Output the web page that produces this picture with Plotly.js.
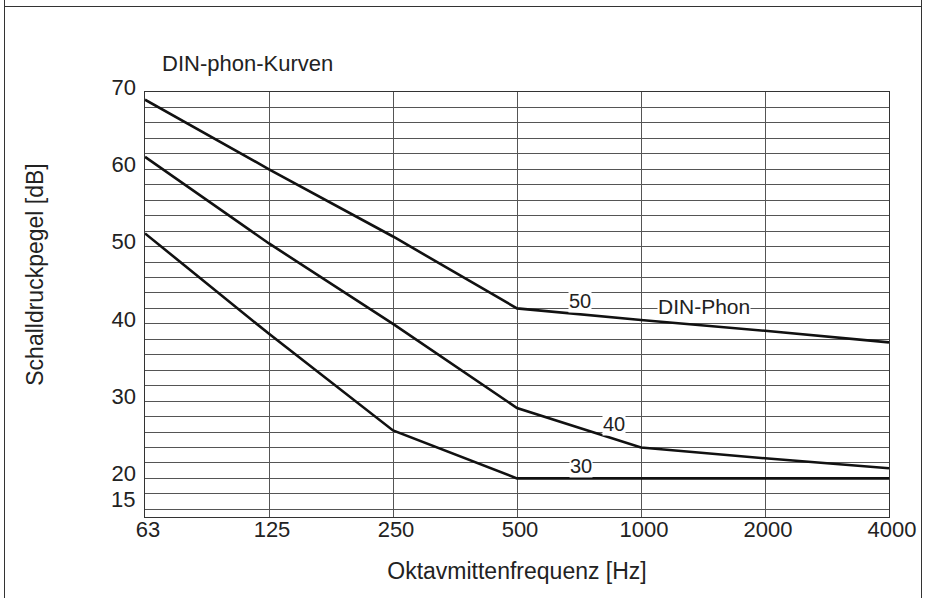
<!DOCTYPE html>
<html>
<head>
<meta charset="utf-8">
<script src="https://cdn.plot.ly/plotly-3.0.1.min.js"></script>
<style>
  html, body { margin: 0; padding: 0; background: #fff; }
  #wrap { position: relative; width: 926px; height: 598px; }
  #chart { position: absolute; left: 0; top: 0; width: 926px; height: 598px; }
  .vline { position: absolute; top: 0; width: 0; height: 598px; border-left: 1.5px solid #333; }
  .hline { position: absolute; left: 4px; top: 6px; width: 918px; height: 0; border-top: 1.5px solid #333; }
</style>
</head>
<body>
<div id="wrap">
  <div id="chart"></div>
  <div class="vline" style="left:4px"></div>
  <div class="vline" style="left:921px"></div>
  <div class="hline"></div>
</div>
<script>
// Data
const frequencies = ['63', '125', '250', '500', '1000', '2000', '4000'];
const phon50 = [69.0, 60.0, 51.3, 42.0, 40.5, 39.1, 37.6];
const phon40 = [61.6, 50.4, 40.0, 29.1, 24.0, 22.6, 21.3];
const phon30 = [51.7, 38.7, 26.2, 20.0, 20.0, 20.0, 20.0];
const yTickVals = [20, 30, 40, 50, 60, 70];
const yTickText = ['20', '30', '40', '50', '60', '70'];

const fontFam = 'Liberation Sans, Arial, Helvetica, sans-serif';
const lineStyle = {color: '#111', width: 2.6};

const traces = [
  {x: frequencies, y: phon50, mode: 'lines', line: lineStyle, hoverinfo: 'skip'},
  {x: frequencies, y: phon40, mode: 'lines', line: lineStyle, hoverinfo: 'skip'},
  {x: frequencies, y: phon30, mode: 'lines', line: lineStyle, hoverinfo: 'skip'}
];

const ann = (x, y, text, size) => ({
  x: x, y: y, xref: 'x', yref: 'y', text: text, showarrow: false,
  bgcolor: '#fff', borderpad: 0,
  font: {family: fontFam, size: size, color: '#222'}
});

const layout = {
  width: 926, height: 598,
  margin: {l: 145, r: 37, t: 92, b: 81},
  paper_bgcolor: '#fff', plot_bgcolor: '#fff',
  showlegend: false,
  font: {family: fontFam, color: '#222'},
  xaxis: {
    type: 'category',
    range: [0, 6],
    showgrid: true, gridcolor: '#555', gridwidth: 1,
    showline: true, linecolor: '#333', linewidth: 1.2, mirror: true,
    ticks: '', tickfont: {family: fontFam, size: 22, color: '#222'},
    ticklabelshift: 3, ticklabelstandoff: -8,
    zeroline: false,
    title: {text: 'Oktavmittenfrequenz [Hz]', font: {family: fontFam, size: 23, color: '#222'}, standoff: 22}
  },
  yaxis: {
    range: [15, 70],
    tick0: 0, dtick: 2,
    showgrid: true, gridcolor: '#555', gridwidth: 1,
    showticklabels: false, ticks: '',
    showline: true, linecolor: '#333', linewidth: 1.2, mirror: true,
    zeroline: false
  },
  yaxis2: {
    overlaying: 'y', side: 'left', range: [15, 70],
    tickmode: 'array', tickvals: yTickVals, ticktext: yTickText,
    showgrid: false, zeroline: false, showline: false, ticks: '',
    ticklabelshift: -5, ticklabelstandoff: 8,
    tickfont: {family: fontFam, size: 22, color: '#222'}
  },
  annotations: [
    {xref: 'paper', yref: 'paper', x: 0, y: 1, xanchor: 'left', yanchor: 'middle', xshift: 15, yshift: 29,
     text: 'DIN-phon-Kurven', showarrow: false, font: {family: fontFam, size: 22, color: '#222'}},
    {xref: 'paper', yref: 'y', x: 0, y: 15, xanchor: 'right', yanchor: 'middle', xshift: -8, yshift: 18,
     text: '15', showarrow: false, font: {family: fontFam, size: 22, color: '#222'}},
    {xref: 'paper', yref: 'paper', x: 0, y: 0.57, xanchor: 'center', yanchor: 'middle', xshift: -110,
     textangle: -90, text: 'Schalldruckpegel [dB]', showarrow: false,
     font: {family: fontFam, size: 23, color: '#222'}},
    ann(3.51, 42.9, '50', 20),
    ann(4.51, 42.2, 'DIN-Phon', 21),
    ann(3.78, 27.0, '40', 20),
    ann(3.52, 21.55, '30', 20)
  ]
};

// anchor a hidden point on yaxis2 so its labels draw
traces.push({x: [frequencies[0]], y: [70], yaxis: 'y2', mode: 'markers', marker: {opacity: 0}, hoverinfo: 'skip'});

Plotly.newPlot('chart', traces, layout, {staticPlot: true, displayModeBar: false});
</script>
</body>
</html>
